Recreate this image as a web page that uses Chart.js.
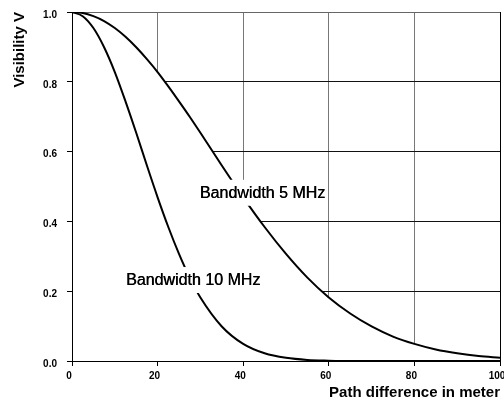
<!DOCTYPE html>
<html>
<head>
<meta charset="utf-8">
<script src="https://cdn.jsdelivr.net/npm/chart.js@4"></script>
<style>
html,body{margin:0;padding:0;background:#fff;}
#wrap{width:504px;height:405px;}
</style>
</head>
<body>
<div id="wrap"><canvas id="chart"></canvas></div>
<script>
// path difference (m) and visibility
const pathDiff = [0,2.5,5,7.5,10,12.5,15,17.5,20,22.5,25,27.5,30,35,40,45,50,55,60,65,70,75,80,85,90,95,100];
const vis5MHz  = [1.000,0.997,0.988,0.974,0.954,0.929,0.899,0.865,0.828,0.787,0.744,0.700,0.654,0.560,0.469,0.384,0.307,0.239,0.182,0.136,0.099,0.070,0.049,0.033,0.022,0.014,0.009];
const vis10MHz = [1.000,0.988,0.954,0.899,0.828,0.744,0.654,0.560,0.469,0.384,0.307,0.239,0.182,0.099,0.049,0.022,0.009,0.003,0.001,0,0,0,0,0,0,0,0];
const xTicks = [0,20,40,60,80,100];
const yTicks = [0,0.2,0.4,0.6,0.8,1.0];
const curveLabels = ['Bandwidth 5 MHz','Bandwidth 10 MHz'];
const labelSpots = [{x:44.5, y:0.482},{x:28.3, y:0.232}];

const FONT = 'Arial, "Liberation Sans", sans-serif';

const overlay = {
  id: 'overlay',
  afterDatasetsDraw(chart){
    const {ctx, chartArea:a, scales:{x, y}} = chart;
    ctx.save();
    // put the axis lines back over the white fill
    const lx = Math.round(a.left - 0.5) + 0.5;
    const by = Math.round(a.bottom - 0.5) + 0.5;
    ctx.strokeStyle = '#000';
    ctx.lineWidth = 1;
    ctx.beginPath();
    ctx.moveTo(lx, a.top); ctx.lineTo(lx, by);
    ctx.lineTo(a.right, by);
    ctx.stroke();
    // curve labels on white boxes
    ctx.font = '16px ' + FONT;
    ctx.textAlign = 'center';
    ctx.textBaseline = 'middle';
    curveLabels.forEach((t,i)=>{
      const px = x.getPixelForValue(labelSpots[i].x);
      const py = y.getPixelForValue(labelSpots[i].y);
      const w = ctx.measureText(t).width + 4;
      ctx.fillStyle = '#fff';
      ctx.fillRect(px - w/2, py - 13, w, 26);
      ctx.fillStyle = '#000';
      ctx.fillText(t, px, py + 1);
      ctx.fillText(t, px + 0.4, py + 1);
    });
    ctx.restore();
  }
};

const pts = (vals)=>pathDiff.map((v,i)=>({x:v, y:vals[i]}));

new Chart(document.getElementById('chart'), {
  type: 'line',
  data: {
    datasets: [
      {
        label: curveLabels[0],
        data: pts(vis5MHz),
        borderColor: '#000',
        borderWidth: 2,
        backgroundColor: '#fff',
        fill: 'origin',
        pointRadius: 0,
        cubicInterpolationMode: 'monotone'
      },
      {
        label: curveLabels[1],
        data: pts(vis10MHz),
        borderColor: '#000',
        borderWidth: 2,
        fill: false,
        pointRadius: 0,
        cubicInterpolationMode: 'monotone'
      }
    ]
  },
  options: {
    responsive: true,
    maintainAspectRatio: false,
    animation: false,
    layout: {padding: {top: 12, right: 4, left: 0, bottom: 0}},
    plugins: {
      legend: {display: false},
      tooltip: {enabled: false},
      filler: {drawTime: 'beforeDatasetsDraw'}
    },
    scales: {
      x: {
        type: 'linear',
        min: 0, max: 100,
        afterBuildTicks: (s)=>{ s.ticks = xTicks.map(v=>({value:v})); },
        afterFit: (s)=>{ s.height = 44; s.paddingLeft = 0; s.paddingRight = 0; },
        grid: {
          color: (c)=> c.tick && c.tick.value === 100 ? '#000' : '#777',
          tickColor: '#000',
          tickLength: 5
        },
        border: {color: '#000', width: 1},
        ticks: {
          color: '#000',
          font: {family: FONT, size: 10, weight: 'bold'},
          padding: 4,
          labelOffset: -3,
          maxRotation: 0
        },
        title: {
          display: true,
          text: 'Path difference in meter',
          align: 'end',
          color: '#000',
          font: {family: FONT, size: 15, weight: 'bold'},
          padding: {top: 0, bottom: 3}
        }
      },
      y: {
        min: 0, max: 1,
        afterBuildTicks: (s)=>{ s.ticks = yTicks.map(v=>({value:v})); },
        afterFit: (s)=>{ s.width = 72; s.paddingTop = 0; s.paddingBottom = 0; },
        grid: {
          color: (c)=> c.tick && c.tick.value === 1 ? '#666' : '#111',
          tickColor: '#000',
          tickLength: 5
        },
        border: {color: '#000', width: 1},
        ticks: {
          color: '#000',
          font: {family: FONT, size: 10, weight: 'bold'},
          padding: 10,
          labelOffset: 3,
          callback: (v)=>Number(v).toFixed(1)
        },
        title: {
          display: true,
          text: 'Visibility V',
          align: 'end',
          color: '#000',
          font: {family: FONT, size: 15, weight: 'bold'},
          padding: {top: 11, bottom: 0}
        }
      }
    }
  },
  plugins: [overlay]
});
</script>
</body>
</html>
